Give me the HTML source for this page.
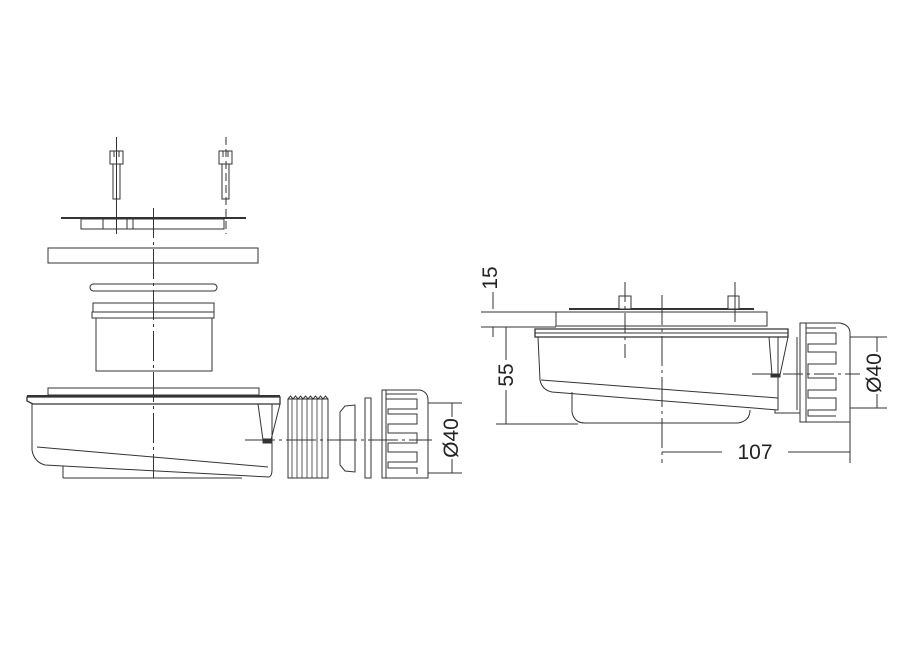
<!DOCTYPE html>
<html><head><meta charset="utf-8"><style>
html,body{margin:0;padding:0;background:#fff;width:923px;height:654px;overflow:hidden}
svg text{font-family:"Liberation Sans",sans-serif;fill:#222}
</style></head><body>
<svg width="923" height="654" viewBox="0 0 923 654" xmlns="http://www.w3.org/2000/svg" fill="none" stroke="#333" stroke-width="1">
<!-- LEFT VIEW -->
<!-- screws -->
<g>
<rect x="110" y="151" width="13" height="13" fill="#fff"/>
<line x1="114" y1="151" x2="114" y2="157"/><line x1="119" y1="151" x2="119" y2="157"/>
<rect x="113" y="164" width="7" height="35"/>
<rect x="219" y="151" width="13" height="13" fill="#fff"/>
<line x1="223" y1="151" x2="223" y2="157"/><line x1="228" y1="151" x2="228" y2="157"/>
<rect x="222" y="164" width="7" height="35"/>
<line x1="116.5" y1="137" x2="116.5" y2="234"/>
<line x1="226" y1="137" x2="226" y2="234" stroke-dasharray="8,4"/>
</g>
<!-- plate -->
<line x1="61" y1="218" x2="246" y2="218" stroke-width="2"/>
<rect x="81" y="219" width="143" height="10"/>
<line x1="103" y1="219" x2="103" y2="229"/><line x1="127" y1="219" x2="127" y2="229"/><line x1="133" y1="219" x2="133" y2="229"/>
<!-- gasket -->
<rect x="48" y="248" width="210" height="15"/>
<!-- o-ring -->
<rect x="90" y="284" width="127" height="7" rx="3.5"/>
<!-- cylinder -->
<rect x="93" y="303" width="121" height="9"/>
<rect x="92" y="312" width="122" height="6"/>
<rect x="96" y="318" width="116" height="53"/>
<!-- base body -->
<rect x="48" y="388" width="211" height="7"/>
<path d="M27 397 L27 401 L33 404 L280 404 L280 397 Z" stroke-width="1.3"/>
<line x1="27" y1="396" x2="280" y2="396" stroke-width="2"/>
<path d="M32 404 L32 450 Q34 462 45 465 L269 477 Q272 476 272 470 L272 404"/>
<line x1="37" y1="447" x2="268" y2="467"/>
<line x1="63" y1="478" x2="242" y2="478"/>
<line x1="63" y1="466" x2="63" y2="478"/>
<path d="M258 404 L263 440 L271 440 L280 404"/>
<rect x="263" y="439" width="8" height="4" fill="#333"/>
<!-- threaded pipe -->
<rect x="288" y="399" width="40" height="79"/>
<g stroke-width="0.8">
<line x1="292" y1="399" x2="292" y2="478"/><line x1="297" y1="399" x2="297" y2="478"/><line x1="302" y1="399" x2="302" y2="478"/><line x1="307" y1="399" x2="307" y2="478"/><line x1="312" y1="399" x2="312" y2="478"/><line x1="317" y1="399" x2="317" y2="478"/><line x1="322" y1="399" x2="322" y2="478"/>
</g>
<path d="M288 399 l2.5 -3 l2.5 3 l2.5 -3 l2.5 3 l2.5 -3 l2.5 3 l2.5 -3 l2.5 3 l2.5 -3 l2.5 3 l2.5 -3 l2.5 3 l2.5 -3 l2.5 3 l2.5 -3 l2.5 3"/>
<!-- cone seal -->
<path d="M345 406 L355 405 L355 472 L345 471 L340 465 L340 412 Z"/>
<!-- thin ring -->
<rect x="365" y="398" width="6" height="80"/>
<!-- nut -->
<path d="M382 390 L420 390 Q428 392 428 400 L428 478 L382 478 Z"/>
<path d="M386 478 L386 390 M386 394 L417 394 M386 399 L417 399 L417 409 L388 409 L388 414 L417 414 L417 424 L388 424 L388 433 L417 433 L417 443 L388 443 L388 452 L417 452 L417 462 L388 462 L388 468 L417 468 L417 474"/>
<!-- center lines -->
<line x1="153.5" y1="208" x2="153.5" y2="478" stroke-dasharray="30,4,3,4"/>
<line x1="245" y1="440" x2="432" y2="440" stroke-dasharray="30,4,3,4"/>
<!-- dim -->
<line x1="428" y1="403" x2="462" y2="403"/><line x1="428" y1="473" x2="462" y2="473"/>
<line x1="452" y1="403" x2="452" y2="473"/>
<rect x="440" y="417" width="22" height="42" fill="#fff" stroke="none"/>
<text x="0" y="0" font-size="21" transform="translate(458,438) rotate(-90)" text-anchor="middle" stroke="none">Ø40</text>

<!-- RIGHT VIEW -->
<line x1="481" y1="312" x2="557" y2="312"/>
<line x1="481" y1="327" x2="556" y2="327"/>
<line x1="493" y1="292" x2="493" y2="309"/><line x1="493" y1="327" x2="493" y2="337"/>
<text font-size="21" transform="translate(497,278) rotate(-90)" text-anchor="middle" stroke="none">15</text>
<line x1="506" y1="327" x2="506" y2="360"/><line x1="506" y1="390" x2="506" y2="424"/>
<text font-size="21" transform="translate(513,375) rotate(-90)" text-anchor="middle" stroke="none">55</text>
<line x1="496" y1="424" x2="578" y2="424"/>
<!-- grate -->
<line x1="569" y1="309" x2="754" y2="309" stroke-width="2"/>
<rect x="556" y="312" width="211" height="14"/>
<rect x="619" y="296" width="12" height="13" fill="#fff"/>
<rect x="728" y="296" width="11" height="13" fill="#fff"/>
<!-- rim -->
<path d="M535 329 L788 329 L788 337 L535 337 Z" stroke-width="1.3"/>
<line x1="535" y1="333" x2="788" y2="333"/>
<path d="M538 337 L540 380 Q542 390 552 392 L778 410 L778 337"/>
<line x1="541" y1="380" x2="778" y2="398"/>
<path d="M572 392 L572 412 Q574 423 585 423 L738 423 Q750 421 750 410"/>
<path d="M769 337 L772 375 L780 375 L788 337"/>
<rect x="771" y="374" width="9" height="3" fill="#333"/>
<path d="M775 410 L775 413 L800 413"/>
<!-- nut -->
<path d="M797 337 L797 410 M800 323 L840 323 Q850 325 850 333 L850 422 L800 422 Z"/>
<path d="M806 422 L806 323 M806 328 L836 328 M806 333 L836 333 L836 344 L808 344 L808 352 L836 352 L836 364 L808 364 L808 378 L836 378 L836 390 L808 390 L808 398 L836 398 L836 410 L808 410 L808 416 L836 416"/>
<!-- centre lines -->
<line x1="662" y1="295" x2="662" y2="463" stroke-dasharray="30,4,3,4"/>
<line x1="625" y1="282" x2="625" y2="358" stroke-dasharray="20,4,3,4"/>
<line x1="735" y1="282" x2="735" y2="322"/>
<line x1="752" y1="374" x2="860" y2="374" stroke-dasharray="20,4,3,4"/>
<!-- Ø40 -->
<line x1="850" y1="337" x2="887" y2="337"/><line x1="850" y1="408" x2="887" y2="408"/>
<line x1="877" y1="337" x2="877" y2="408"/>
<rect x="864" y="352" width="22" height="42" fill="#fff" stroke="none"/>
<text font-size="21" transform="translate(881,373) rotate(-90)" text-anchor="middle" stroke="none">Ø40</text>
<!-- 107 -->
<line x1="662" y1="452" x2="722" y2="452"/><line x1="788" y1="452" x2="850" y2="452"/>
<line x1="850" y1="408" x2="850" y2="463"/>
<text x="755" y="459" font-size="21" text-anchor="middle" stroke="none">107</text>
</svg>
</body></html>
